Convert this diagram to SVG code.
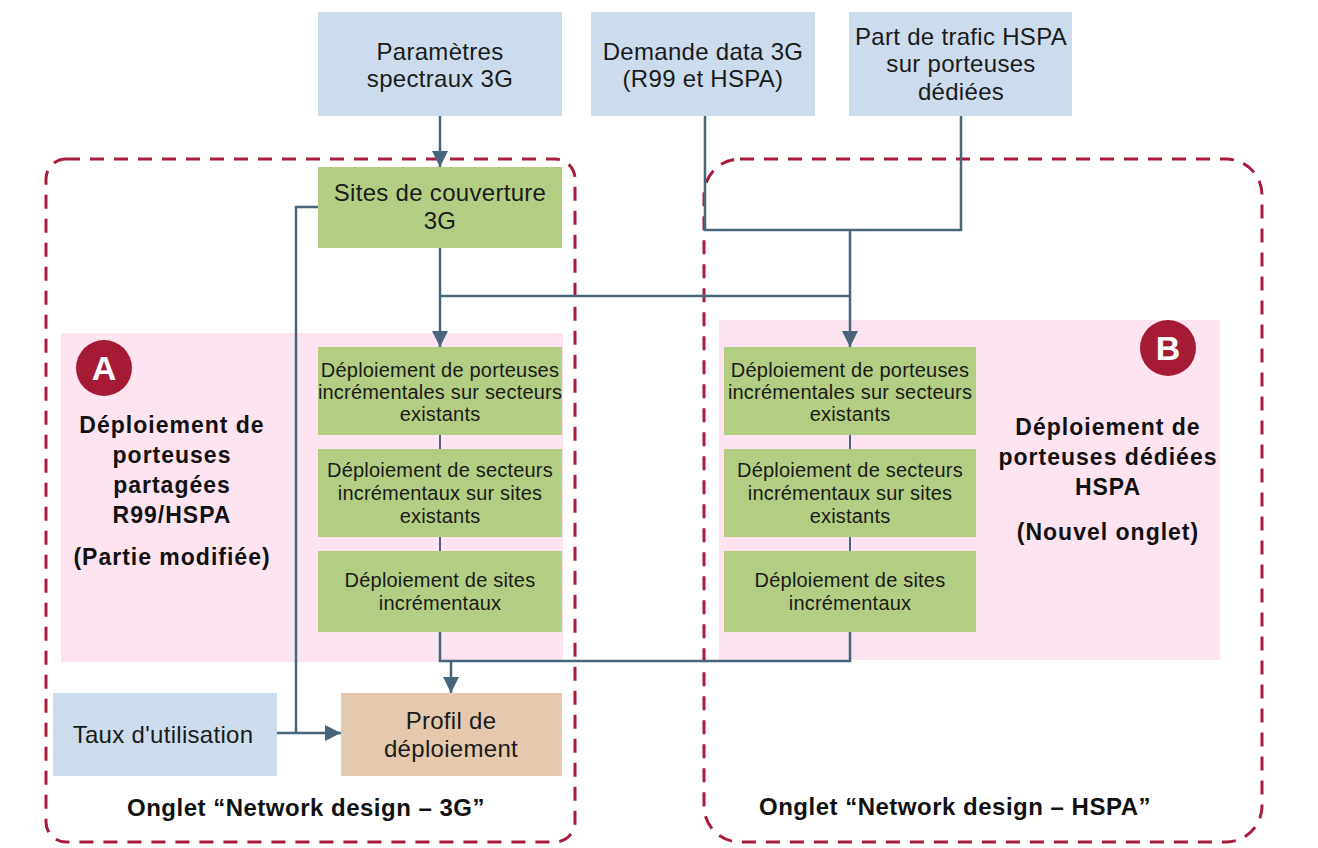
<svg xmlns="http://www.w3.org/2000/svg" width="1318" height="848" viewBox="0 0 1318 848">
<defs>
<style>
.frame{fill:none;stroke:#A81C3B;stroke-width:3;stroke-dasharray:14 10}
.pink{fill:#FDE4F0}
.blue{fill:#CDDCED}
.green{fill:#B3CE82}
.tan{fill:#E4C9AE}
.badge{fill:#A51A34}
.conn{fill:none;stroke:#47667C;stroke-width:2.5}
.thin{fill:none;stroke:#47667C;stroke-width:2}
.t24{font-family:"Liberation Sans",Arial,sans-serif;font-size:24px;fill:#1a1a1a;text-anchor:middle;letter-spacing:0.3px}
.t20{font-family:"Liberation Sans",Arial,sans-serif;font-size:20px;fill:#1a1a1a;text-anchor:middle;letter-spacing:0.2px}
.b22{font-family:"Liberation Sans",Arial,sans-serif;font-size:23px;font-weight:bold;fill:#111;text-anchor:middle;letter-spacing:1px}
.b24{font-family:"Liberation Sans",Arial,sans-serif;font-size:24px;font-weight:bold;fill:#111;text-anchor:middle;letter-spacing:0.5px}
.bl{font-family:"Liberation Sans",Arial,sans-serif;font-size:34px;font-weight:bold;fill:#fff;text-anchor:middle}
</style>
<marker id="arr" markerUnits="userSpaceOnUse" markerWidth="16" markerHeight="16" refX="16" refY="8" orient="auto">
<path d="M0,0 L16,8 L0,16 z" fill="#47667C"/>
</marker>
</defs>
<rect width="1318" height="848" fill="#fff"/>

<g id="frames">
<rect class="frame" x="46" y="159" width="529" height="683" rx="20"/>
<rect class="frame" x="704" y="159" width="558" height="683" rx="36"/>
<rect class="pink" x="61" y="333" width="502" height="329"/>
<rect class="pink" x="719" y="320" width="501" height="340"/>
</g>

<g id="connectors">
<path class="conn" d="M440,116 V167" marker-end="url(#arr)"/>
<path class="conn" d="M440,248 V347" marker-end="url(#arr)"/>
<path class="conn" d="M440,296 H850"/>
<path class="conn" d="M705,116 V230 H961 V116"/>
<path class="conn" d="M850,230 V347" marker-end="url(#arr)"/>
<path class="thin" d="M440,435 V449 M440,537 V551 M850,435 V449 M850,537 V551"/>
<path class="conn" d="M440,632 V661 H850 V632"/>
<path class="conn" d="M451,661 V693" marker-end="url(#arr)"/>
<path class="conn" d="M318,207 H296 V733"/>
<path class="conn" d="M277,733 H341" marker-end="url(#arr)"/>
</g>

<g id="n-parametres">
<rect class="blue" x="318" y="12" width="244" height="104"/>
<text class="t24" x="440" y="60">Paramètres</text>
<text class="t24" x="440" y="87">spectraux 3G</text>
</g>
<g id="n-demande">
<rect class="blue" x="591" y="12" width="224" height="104"/>
<text class="t24" x="703" y="60">Demande data 3G</text>
<text class="t24" x="703" y="87">(R99 et HSPA)</text>
</g>
<g id="n-part">
<rect class="blue" x="849" y="12" width="223" height="104"/>
<text class="t24" x="961" y="45">Part de trafic HSPA</text>
<text class="t24" x="961" y="72">sur porteuses</text>
<text class="t24" x="961" y="100">dédiées</text>
</g>
<g id="n-sites">
<rect class="green" x="318" y="167" width="244" height="81"/>
<text class="t24" x="440" y="201">Sites de couverture</text>
<text class="t24" x="440" y="229">3G</text>
</g>

<g id="n-a1">
<rect class="green" x="318" y="347" width="244" height="88"/>
<text class="t20" x="440" y="377">Déploiement de porteuses</text>
<text class="t20" x="440" y="399">incrémentales sur secteurs</text>
<text class="t20" x="440" y="421">existants</text>
</g>
<g id="n-a2">
<rect class="green" x="318" y="449" width="244" height="88"/>
<text class="t20" x="440" y="477">Déploiement de secteurs</text>
<text class="t20" x="440" y="500">incrémentaux sur sites</text>
<text class="t20" x="440" y="523">existants</text>
</g>
<g id="n-a3">
<rect class="green" x="318" y="551" width="244" height="81"/>
<text class="t20" x="440" y="587">Déploiement de sites</text>
<text class="t20" x="440" y="610">incrémentaux</text>
</g>

<g id="n-b1">
<rect class="green" x="724" y="347" width="252" height="88"/>
<text class="t20" x="850" y="377">Déploiement de porteuses</text>
<text class="t20" x="850" y="399">incrémentales sur secteurs</text>
<text class="t20" x="850" y="421">existants</text>
</g>
<g id="n-b2">
<rect class="green" x="724" y="449" width="252" height="88"/>
<text class="t20" x="850" y="477">Déploiement de secteurs</text>
<text class="t20" x="850" y="500">incrémentaux sur sites</text>
<text class="t20" x="850" y="523">existants</text>
</g>
<g id="n-b3">
<rect class="green" x="724" y="551" width="252" height="81"/>
<text class="t20" x="850" y="587">Déploiement de sites</text>
<text class="t20" x="850" y="610">incrémentaux</text>
</g>

<g id="n-taux">
<rect class="blue" x="53" y="693" width="224" height="83"/>
<text class="t24" x="163" y="743">Taux d'utilisation</text>
</g>
<g id="n-profil">
<rect class="tan" x="341" y="693" width="221" height="83"/>
<text class="t24" x="451" y="729">Profil de</text>
<text class="t24" x="451" y="757">déploiement</text>
</g>

<g id="badge-a">
<circle class="badge" cx="104" cy="368" r="28"/>
<text class="bl" x="104" y="380">A</text>
</g>
<g id="label-a">
<text class="b22" x="172" y="433">Déploiement de</text>
<text class="b22" x="172" y="463">porteuses</text>
<text class="b22" x="172" y="493">partagées</text>
<text class="b22" x="172" y="523">R99/HSPA</text>
<text class="b22" x="172" y="565">(Partie modifiée)</text>
</g>
<g id="badge-b">
<circle class="badge" cx="1168" cy="348" r="28"/>
<text class="bl" x="1168" y="360">B</text>
</g>
<g id="label-b">
<text class="b22" x="1108" y="435">Déploiement de</text>
<text class="b22" x="1108" y="465">porteuses dédiées</text>
<text class="b22" x="1108" y="495">HSPA</text>
<text class="b22" x="1108" y="540">(Nouvel onglet)</text>
</g>

<g id="tab-3g">
<text class="b24" x="306" y="816">Onglet “Network design – 3G”</text>
</g>
<g id="tab-hspa">
<text class="b24" x="955" y="815">Onglet “Network design – HSPA”</text>
</g>
</svg>
